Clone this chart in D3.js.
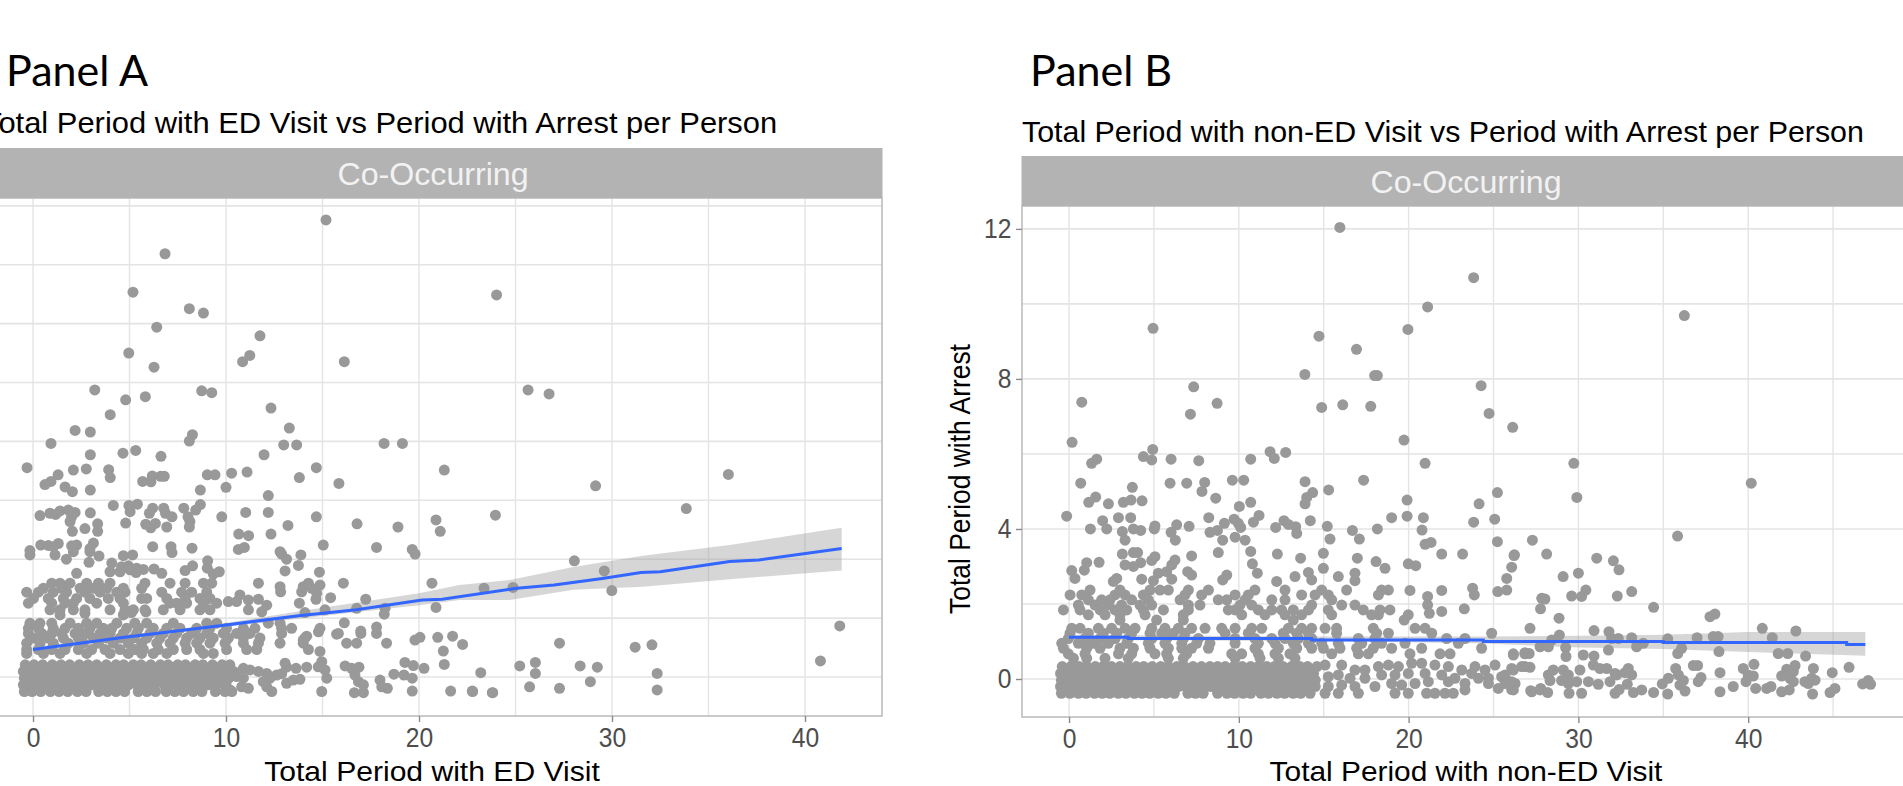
<!DOCTYPE html>
<html><head><meta charset="utf-8">
<script src="https://cdn.jsdelivr.net/npm/d3@7"></script>
<style>html,body{margin:0;padding:0;background:#fff;overflow:hidden}svg{display:block}</style>
</head><body><svg id="c" width="1903" height="786"></svg>
<script>
// ---------- Panel A values ----------
const titleA = "Total Period with ED Visit vs Period with Arrest per Person";
const xLabelA = "Total Period with ED Visit";
const xTicksA = [0,10,20,30,40];
const xGridA = [0,5,10,15,20,25,30,35,40];
const yGridA = [0,1.5,3,4.5,6,7.5,9,10.5,12];
const sparseA = [[15.18,11.64],[6.84,10.78],[5.18,9.8],[8.1,9.38],[8.83,9.27],[6.41,8.91],[11.76,8.69],[4.96,8.25],[6.27,7.89],[11.23,8.19],[10.86,8.03],[16.13,8.03],[24.02,9.73],[25.65,7.31],[26.74,7.21],[12.33,6.85],
[3.2,7.31],[4.8,7.06],[5.82,7.14],[8.74,7.29],[9.26,7.24],[4,6.68],[2.18,6.28],[2.97,6.24],[13.28,6.34],[8.26,6.17],[8.1,6.01],[.93,5.95],[12.99,5.91],[13.66,5.91],[18.19,5.95],[19.14,5.95],
[2.97,5.66],[4.66,5.7],[5.32,5.77],[6.63,5.62],[11.97,5.66],[-.31,5.33],[2.09,5.27],[2.76,5.3],[3.92,5.28],[4,5.08],[1.3,5.15],[.93,4.98],[.62,4.9],[6.18,5.12],[6.11,4.97],[5.68,4.98],[6.61,5.11],[6.8,5.11],
[9.03,5.15],[9.43,5.15],[10.29,5.19],[11.09,5.22],[14.68,5.33],[13.8,5.08],[15.85,4.93],[21.31,5.27],[1.66,4.84],[2.04,4.72],[2.97,4.76],[8.67,4.76],[10,4.83],[12.19,4.62],
[4.16,4.37],[4.97,4.37],[5.41,4.4],[5.03,4.21],[8.67,4.39],[8.43,4.25],[7.81,4.3],[6.77,4.3],[6.2,4.3],[6.03,4.17],[6.86,4.17],[7.2,4.08],[8.03,4.08],[8.13,3.96],[8.1,3.82],
[.36,4.11],[.88,4.17],[1.17,4.14],[1.4,4.23],[1.83,4.25],[2.18,4.19],[2,4.08],[1.92,3.96],[2.97,4.18],[3.35,3.9],[2.69,3.78],[2.04,3.71],[3.35,3.71],[4.8,3.92],[5.84,3.89],[6.1,3.8],[6.34,3.91],[6.93,3.82],
[9.78,4.08],[11.02,4.19],[12.19,4.19],[14.68,4.08],[16.79,3.9],[18.91,3.82],[20.88,4],[21.1,3.71],[23.96,4.12],[13.21,3.86],[12.33,3.64],[10.66,3.64],[11.17,3.6],[15.04,3.36],[17.8,3.3],[19.65,3.25],
[.4,3.36],[.79,3.35],[1.31,3.4],[1.05,3.32],[2,3.34],[2.26,3.36],[3.13,3.41],[2.95,3.27],[6.2,3.32],[7.15,3.32],[8.24,3.28],[10.64,3.25],[10.95,3.3],[-.16,3.22],[12.8,3.19],
[-.16,3.11],[1.14,3.11],[1.73,3],[2.09,3.19],[2.95,3.19],[3.42,3.08],[2.9,2.92],[4.68,3.09],[5.16,3.11],[7.2,3.17],[12.88,3.13],[13.14,3],[13.88,3.11],[13.75,2.84],[13.06,2.7],[19.8,3.13],[9.05,2.96],[9.03,2.77],
[4.08,2.9],[3.99,2.68],[4.59,2.81],[4.94,2.83],[4.51,2.68],[5.03,2.73],[5.37,2.77],[5.72,2.74],[5.34,2.66],[6.27,2.75],[6.67,2.64],[7.88,2.71],[8.27,2.83],[9.65,2.68],[9.34,2.62],[2.26,2.64],[14.84,2.67],
[11.68,2.39],[12.8,2.3],[12.83,2.17],[16.08,2.39],[20.67,2.39],[23.37,2.26],[14,2.3],[14.27,2.39],[14.87,2.34],[14.44,2.26],[13.92,2.17],[14.7,2.13],[14.66,1.98],[15.42,2.02],[17.24,1.98],[13.8,1.88],[14.09,1.64],[15.13,1.71],[16.77,1.75],[18.24,1.75],[18.2,1.6],[20.88,1.77],
[11.68,1.98],[12.11,1.83],[11.85,1.66],[11.16,1.71],[10.12,1.92],[10.72,2.09],[11.16,1.96],[10.55,1.92],[2.69,1.62],[4.73,1.62],[5.1,1.64],[5.85,1.66],
[19.79,.94],[20.05,1.01],[20.97,1.01],[21.74,1.04],[22.26,.83],[14.87,.65],[21.26,.66],[14,.94],[14.18,1.04],[14.79,1.15],[15.73,1.09],[16.13,1.38],[16.98,1.17],[17.8,1.27],
[13.06,.35],[13.14,.25],[13.63,.22],[14.18,.25],[14.96,.39],[14.78,.26],[15.13,.18],[15.22,-.03],[16.17,.28],[16.51,.22],[16.89,.25],[16.68,.05],[16.86,-.12],[17.12,-.2],[17.12,-.4],[16.65,-.4],[14.96,-.37],[17.98,-.08],[18.07,-.25],[18.36,-.29],[18.7,.07],[19.27,.37],[19.71,.29],[20.26,.22],[19.22,.05],[19.65,-.03],[19.65,-.36],[21.31,.32],[21.64,-.36],[22.76,-.36],[23.8,-.4],[23.2,.11],
[10.9,.22],[11.24,.18],[10.55,.01],[10.9,-.03],[11.68,.14],[12.11,.09],[12.63,.05],[12.88,.08],[12.28,-.03],[11.93,-.12],[13.14,-.16],[13.49,-.08],[13.83,-.06],[12.11,-.25],[12.37,-.37],[11.16,-.29],[10.81,-.25],[10.21,-.33],
[29.15,4.87],[36.03,5.16],[33.85,4.29],[28.05,2.96],[29.6,2.7],[29.99,2.2],[24.87,2.28],[41.8,1.3],[40.8,.41],[27.28,.86],[31.2,.76],[32.07,.82],[25.22,.28],[26.03,.37],[26.03,.09],[25.73,-.25],[27.28,-.29],[28.35,.28],[29.24,.25],[28.88,-.12],[32.34,.09],[32.34,-.33],[23.82,-.4],[22.78,-.37]];
const rowYsA = [2.39,2.26,2.16,2,1.88,1.71,1.58,1.37,1.24,1.11,.99,.86,.7,.6,.31,.14,-.03,-.2,-.37];
const rowXsA = [
[.97,1.4,1.92,2.78,3.39,3.99,5.8,7.1,7.88,8.83,9.26],
[.54,1.49,2.44,3.13,3.82,4.68,5.63],
[-.33,.28,1.05,1.74,2.69,3.47,4.34,4.77,6.67,7.7,8.22,9],
[.02,.79,1.57,2.26,2.95,3.9,4.51,5.63,5.89,6.93,7.88,8.65,9.17],
[-.24,.97,1.66,2.09,3.3,4.68,7.1,7.44,7.96,8.83,9.52],
[.88,1.4,2.09,2.69,3.99,4.77,5.2,5.8,6.75,7.62,8.65,9.17],
[1.4,4.68],
[-.16,.36,.97,1.92,2.78,3.3,4.34,5.28,5.89,7.27,9,9.52,12.19,12.8],
[-.24,.28,1.05,1.66,2.35,2.95,3.64,4.08,4.85,5.46,6.23,6.93,7.62,8.48,9.17,10.03,10.9,11.5,12.88,13.4,14.87],
[-.24,.45,.97,1.49,2.18,2.78,3.47,3.99,4.68,5.37,6.06,6.75,7.44,8.22,9,9.86,10.55,11.24,12.88,15.82,16.99,17.8],
[.02,.79,1.57,2.35,3.13,3.82,4.51,5.2,5.89,6.58,7.27,7.96,8.65,9.34,10.12,10.9,11.76,14.09],
[-.33,.36,1.05,1.83,2.61,3.39,4.16,4.94,5.63,6.41,7.1,7.88,8.48,9.17,9.95,10.9,11.68,12.8,14,16.25,16.77,18.32],
[-.33,.28,.97,1.66,2.35,3.04,3.73,4.51,5.28,5.72,6.49,7.27,7.96,8.65,10.03,11.07,11.59,14.27],
[-.33,.54,1.4,2.78,3.99,4.94,5.63,6.23,6.93,8.83,9.34],
[-.4,.05,.5,1,1.45,1.9,2.4,2.85,3.3,3.8,4.3,4.7,5.2,5.6,6.1,6.6,7,7.5,7.9,8.4,8.8,9.3,9.8,10.2],
[-.5,-.05,.4,.85,1.3,1.8,2.25,2.7,3.15,3.6,4.1,4.55,5,5.5,5.95,6.4,6.85,7.3,7.75,8.2,8.7,9.15,9.6,10.1,10.4],
[-.45,0,.45,.95,1.4,1.85,2.3,2.8,3.25,3.7,4.2,4.65,5.1,5.55,6,6.5,6.95,7.4,7.85,8.3,8.75,9.25,9.7,10.15],
[-.5,-.1,.35,.8,1.25,1.7,2.2,2.65,3.1,3.55,4.05,4.5,4.95,5.4,5.85,6.3,6.8,7.25,7.7,8.15,8.6,9.05,9.5,10],
[-.45,-.05,.4,.9,1.35,1.8,2.3,2.75,3.4,3.85,4.3,4.75,5.45,5.9,6.35,6.9,7.35,7.8,8.3,8.75,9.45,9.95,10.3]];
const fitA = [[0,.7],[4.54,1],[9.9,1.32],[13.77,1.56],[16.75,1.71],[20.16,1.96],[21.2,1.98],[25.07,2.26],[27,2.34],[29.5,2.51],[31.5,2.66],[32.5,2.68],[36.1,2.94],[37.6,2.98],[41.9,3.27]];
const bandA = [[0,.76,.64],[4.54,1.05,.95],[9.9,1.37,1.27],[14.4,1.72,1.52],[20,2.13,1.83],[22.1,2.34,1.96],[24.7,2.47,1.96],[28,2.8,2.22],[31.6,3.09,2.3],[36.1,3.36,2.49],[41.9,3.8,2.71]];

// ---------- Panel B values ----------
const titleB = "Total Period with non-ED Visit vs Period with Arrest per Person";
const xLabelB = "Total Period with non-ED Visit";
const yLabelB = "Total Period with Arrest";
const xTicksB = [0,10,20,30,40];
const xGridB = [0,5,10,15,20,25,30,35,40,45];
const yTicksB = [0,4,8,12];
const yGridB = [0,2,4,6,8,10,12];
const sparseB = [[15.95,12.04],[23.83,10.7],[21.12,9.92],[36.24,9.69],[4.95,9.35],[19.96,9.32],[14.72,9.14],[16.93,8.79],[13.89,8.12],[18.16,8.09],[18.0,8.09],[24.27,7.82],[7.34,7.79],[8.72,7.35],[.75,7.38],[14.88,7.24],[16.12,7.31],[17.77,7.27],
[7.15,7.06],[24.74,7.08],[26.13,6.71],[.18,6.31],[19.73,6.37],[4.93,6.12],[4.38,5.93],[4.87,5.84],[1.63,5.86],[1.33,5.75],[6.01,5.86],[7.64,5.82],[10.7,5.86],[11.84,6.06],[12.09,5.88],[12.76,6.04],[20.97,5.75],[29.73,5.75],[40.18,5.22],[29.91,4.84],
[.69,5.22],[3.73,5.11],[5.95,5.22],[6.93,5.22],[7.99,5.24],[7.83,5],[9.62,5.3],[10.29,5.3],[13.9,5.26],[17.35,5.3],[14.35,4.97],[15.29,5.04],[8.64,4.82],[1.57,4.85],[1.16,4.71],[2.32,4.67],[3.2,4.71],[3.65,4.77],[4.3,4.75],[14,4.84],[13.9,4.67],[19.91,4.77],[25.23,4.97],[24.15,4.67],[10.7,4.71],[10.03,4.6],
[-.14,4.34],[1.98,4.22],[2.91,4.3],[3.63,4.3],[1.26,4],[2.22,4],[3.14,3.93],[3.3,3.7],[3.79,4],[4.22,3.96],[5.06,4.08],[5.02,4],[6.34,4.11],[6.01,3.91],[6.26,3.7],[7.07,4.07],[8.23,4.3],[8.3,3.91],[8.74,3.96],[9.15,4.15],[9.05,3.7],[9.72,4.26],[9.97,4.15],[10.11,4.04],[9.78,3.78],[10.37,3.7],[11.19,4.36],[10.86,4.18],[12.17,4.04],[12.66,4.22],[12.92,4.12],[13.35,4.06],[13.41,3.88],[14.21,4.22],[15.21,4.07],[15.37,3.73],[16.69,3.96],[17.1,3.73],[18.16,4],[19,4.3],[19.91,4.34],[20.87,4.3],[20.79,3.97],[20.97,3.59],[21.32,3.64],[23.83,4.18],[25.07,4.26],[25.23,3.66],[27.29,3.7],[35.84,3.81],
[3.14,3.33],[3.79,3.37],[4.04,3.37],[5.06,3.26],[4.87,3.16],[3.3,3.04],[3.79,3],[4.22,3.1],[7.22,3.28],[8.79,3.37],[10.7,3.4],[12.27,3.33],[13.64,3.22],[14.98,3.35],[10.8,3.07],[11.09,2.82],[14.98,2.95],[16.98,3.22],[18.08,3.13],[18.61,2.95],[21.95,3.33],[23.18,3.33],[26.23,3.31],[26.07,2.98],[25.78,2.68],
[1.04,3.1],[.9,2.9],[1.77,3.11],[.16,2.89],[.35,2.68],[2.81,2.68],[2.61,2.6],[4.28,2.66],[4.97,2.62],[5.26,2.82],[5.75,2.86],[6.05,3.04],[6.24,3.17],[6.05,2.66],[6.99,2.86],[7.22,2.77],[9.29,2.77],[9.05,2.64],[12.23,2.6],[13.31,2.73],[14.1,2.84],[14.29,2.64],[15.86,2.73],[16.84,2.82],[16.84,2.62],[19.98,3.07],[20.42,3.02],[20.08,2.36],[21.95,2.36],[23.77,2.42],[23.87,2.24],[25.25,2.33],[25.78,2.37],[21.12,2.2],[21.12,1.97],[21.22,1.75],[21.95,1.8],[23.28,1.87],[27.84,2.15],[27.77,1.87],
[15.08,.37],[16.06,.37],[16.84,.24],[17.43,.24],[18.22,.33],[18.81,.37],[19.4,.33],[20.18,.42],[20.77,.42],[21.55,.37],[22.34,.33],[23.13,.24],[23.91,.33],[24.5,.24],[25.09,.37],[26.07,.28],[26.85,.33],
[15.27,.06],[15.86,.11],[16.55,.02],[17.43,.02],[18.41,.11],[19.2,.11],[19.98,.15],[20.97,.15],[21.95,.11],[22.73,.02],[23.71,.15],[24.11,.02],[24.7,.02],[25.48,.06],
[15.27,-.2],[16.06,-.16],[16.84,-.2],[18.02,-.2],[19,-.12],[19.59,-.16],[20.38,-.12],[21.16,-.07],[22.34,-.07],[23.32,-.12],[24.7,-.12],[25.68,-.12],[26.27,-.12],
[15.08,-.38],[15.86,-.38],[17.04,-.38],[19.2,-.38],[19.98,-.38],[21.06,-.38],[21.55,-.38],[22.14,-.38],[22.63,-.38],[23.32,-.29],[25.28,-.25],[26.17,-.29],[27.25,-.34],[27.74,-.29],
[26.21,3.29],[28.13,3.33],[31.08,3.22],[32.06,3.15],[32.39,2.91],[29.1,2.73],[30,2.82],[30.44,2.37],[29.6,2.21],[30.19,2.2],[32.29,2.21],[33.14,2.33],[28.03,2.13],[34.43,1.91],[28.86,1.62],[30.92,1.29],[31.8,1.26],[28.88,1.17],[28.43,1.04],[31.96,1.08],[32.35,1.08],[33.14,1.1],[33.82,.95],[33.43,.86],[35.26,1.07],[36.99,1.1],[37.75,1.66],[38.04,1.73],[37.94,1.13],[38.23,1.13],[40.83,1.35],[41.42,1.1],[42.81,1.28],[27.74,.86],[28.23,.86],[29.25,.84],[29.27,.6],[31.77,.77],[36.08,.82],[35.85,.68],[38.28,.73],[30.29,.64],[30.92,.61],[41.77,.68],[42.33,.68],[43.38,.61],[26.17,.64],[26.85,.7],[27.1,.68],
[30.88,.37],[31.27,.28],[31.67,.28],[32.16,.15],[32.94,.28],[33.14,.11],[32.74,.17],[32.26,.11],[30.09,.24],[29.11,.24],[28.52,.24],[28.23,.11],[28.33,-.04],[29.01,-.04],[29.41,.11],[29.41,-.12],[29.9,-.07],[30.59,-.07],[31.17,-.14],[31.86,-.07],[32.88,-.14],[26.66,.33],[26.17,.24],[27.15,.31],[25.68,.11],[26.07,-.07],[26.07,-.28],[27.19,-.31],[27.78,-.25],[28.19,-.36],[29.45,-.38],[30.19,-.38],[32.16,-.38],[32.4,-.28],[33.24,-.36],[33.73,-.29],[34.43,-.36],[35.26,-.4],[34.94,-.13],[35.3,.02],[35.73,.28],[35.89,.11],[36.18,-.04],[35.98,-.16],[36.28,-.32],[37.06,-.07],[37.22,.04],[36.77,.36],[37.02,.36],[38.34,.17],[38.34,-.34],[39.12,-.2],[39.71,.28],[40,.11],[40.3,.08],[39.87,-.07],[40.34,.39],[40.44,-.25],[41.09,-.25],[41.34,-.2],[41.97,.08],[42.27,.26],[42.76,.36],[42.66,.2],[42.46,.02],[42.66,-.07],[41.97,-.34],[42.42,-.29],[43.34,-.07],[43.84,.28],[43.74,.02],[43.94,-.03],[43.54,-.12],[43.79,-.4],[44.95,.17],[45.11,-.25],[44.82,-.36],[45.94,.31],[46.74,-.13],[47.07,-.04],[47.21,-.14]];
const rowYsB = [2.37,2.24,2.11,1.97,1.84,1.71,1.57,1.35,1.22,1.08,.95,.82,.67,.55,.33,.15,-.03,-.2,-.38];
const rowXsB = [
[1.24,3,4.77,5.36,5.85,7.03,8.21,10.95,12.72,14.88,16.35,18.81,18.41],
[.06,.75,2.71,3.3,4.38,6.83,7.81,9.78,10.56,13.7,14.49,15.27,18.22],
[1.14,1.92,2.41,3.69,4.67,6.54,8.79,9.29,10.37,11.94,12.72,15.47],
[.55,1.53,2.32,3.1,4.18,4.87,7.03,7.71,10.07,10.76,14.29,16.06,16.84],
[-.33,.65,1.83,2.71,3.4,4.38,5.56,7.03,9.38,9.78,11.15,11.94,12.52,13.21,14.1,15.27,17.33,18.32,18.9],
[1.14,2.12,3,4.48,6.73,10.17,11.54,12.72,13.7,15.47,17.82,18.22,19.98],
[3,5.16,6.73,13.21,19.74],
[.16,.65,1.73,2.51,3.3,3.89,4.87,5.65,6.44,7.22,8.01,8.99,9.78,10.76,11.35,12.92,13.7,14.29,15.08,15.76,17.92,20.38,20.97,27.15],
[.06,1.14,2.02,2.81,3.69,4.77,5.46,6.14,6.83,9.19,10.56,12.62,13.41,14.1,15.76,18.12,18.81,21.36,24.89],
[-.04,.94,1.83,2.71,3.49,4.87,5.75,6.73,7.62,9.78,10.95,11.94,12.72,13.51,14.29,17.04,18.02,22.24,23.32],
[-.43,.55,1.43,2.32,3.4,4.67,5.65,6.64,7.52,8.3,9.78,11.15,12.13,13.21,14.1,14.88,15.86,17.24,18.41,19.79,22.93],
[-.33,1.04,1.83,3,3.79,4.77,5.85,6.64,7.22,8.21,10.95,12.33,13.41,14.29,14.98,15.96,16.94,17.92,19,20.77,24.3],
[-.04,.94,2.91,3.69,5.06,5.75,6.93,9.58,10.17,11.15,12.13,13.01,15.47,17.04,17.63,20.08,21.85,22.44,26.17,26.85],
[.26,1.04,2.12,3.49,5.85,6.73,9.78,11.25,12.33,13.31],
[-.4,.1,.6,1.05,1.55,2,2.5,3,3.45,3.95,4.4,4.9,5.4,5.85,6.35,6.8,7.3,7.8,8.3,8.75,9.2,9.7,10.2,10.7,11.15,11.65,12.1,12.6,13.1,13.6,14.05,14.6],
[-.5,-.05,.4,.85,1.3,1.8,2.25,2.7,3.15,3.6,4.1,4.55,5,5.5,5.95,6.45,6.9,7.35,7.85,8.3,8.8,9.25,9.7,10.2,10.65,11.1,11.6,12.05,12.5,13,13.45,13.9,14.4],
[-.45,0,.45,.95,1.4,1.85,2.3,2.8,3.25,3.7,4.2,4.65,5.1,5.55,6.05,6.5,6.9,7.4,7.9,8.35,8.85,9.3,9.75,10.25,10.7,11.2,11.65,12.1,12.6,13.05,13.55,14,14.5],
[-.5,-.05,.45,.9,1.35,1.85,2.3,2.75,3.25,3.7,4.15,4.6,5.1,5.55,6,6.45,6.9,7.35,7.85,8.35,8.85,9.3,9.8,10.25,10.7,11.15,11.6,12.1,12.55,13.05,13.5,14.05,14.5],
[-.45,.05,.55,1,1.5,1.95,2.4,2.9,3.35,3.85,4.3,4.75,5.25,5.7,6.2,7,7.45,7.9,8.75,9.3,9.75,10.25,10.7,11.3,11.75,12.25,12.7,13.2,13.65,14.2]];
const fitB = [[0,1.11],[3.49,1.08],[14.29,1.04],[24.4,1],[35,.97],[45.8,.92],[46.9,.92]];
const bandB = [[0,1.18,1.04],[14,1.13,1.02],[24,1.13,.95],[30,1.15,.84],[35,1.18,.8],[40,1.25,.72],[46.9,1.25,.62]];

const stripLabel = "Co-Occurring";
const svg = d3.select("#c");
const SANS = "'Liberation Sans',Arial,sans-serif";

function expand(sparse, ys, xs){
  const out = sparse.map(d=>d.slice());
  ys.forEach((y,i)=>xs[i].forEach(x=>out.push([x,y])));
  return out;
}
function text(str,x,y,size,fill,anchor,sx,rot,family){
  svg.append("text").attr("transform",`translate(${x},${y})`+(rot?` rotate(${rot})`:"")+` scale(${sx||1},1)`)
    .attr("text-anchor",anchor||"middle").attr("dominant-baseline","alphabetic")
    .style("font-family",family||SANS).style("font-size",size+"px").style("fill",fill||"#000").text(str);
}
function panel(o){
  const g = svg.append("g");
  const cid = o.id;
  svg.append("clipPath").attr("id",cid).append("rect").attr("x",o.L).attr("y",o.T).attr("width",o.R-o.L).attr("height",o.B-o.T);
  const x = d3.scaleLinear().domain(o.xDom).range([o.L,o.R]);
  const y = d3.scaleLinear().domain(o.yDom).range([o.B,o.T]);
  g.selectAll("line.gy").data(o.yGrid).join("line").attr("x1",o.L).attr("x2",o.R).attr("y1",d=>y(d)).attr("y2",d=>y(d)).attr("stroke","#e4e4e4").attr("stroke-width",1.6);
  g.selectAll("line.gx").data(o.xGrid).join("line").attr("y1",o.T).attr("y2",o.B).attr("x1",d=>x(d)).attr("x2",d=>x(d)).attr("stroke","#e4e4e4").attr("stroke-width",1.4);
  const pts = g.append("g").attr("clip-path",`url(#${cid})`);
  pts.selectAll("circle").data(expand(o.sparse,o.rowYs,o.rowXs)).join("circle")
    .attr("cx",d=>x(d[0])).attr("cy",d=>y(d[1])).attr("r",5.5).attr("fill","#999999");
  const area = d3.area().x(d=>x(d[0])).y0(d=>y(d[2])).y1(d=>y(d[1]));
  pts.append("path").attr("d",area(o.band)).attr("fill","#999999").attr("fill-opacity",0.4);
  const line = d3.line().x(d=>x(d[0])).y(d=>y(d[1])).curve(o.step?d3.curveStepAfter:d3.curveLinear);
  pts.append("path").attr("d",line(o.fit)).attr("fill","none").attr("stroke","#3366FF").attr("stroke-width",3);
  g.append("rect").attr("x",o.L).attr("y",o.T).attr("width",o.R-o.L).attr("height",o.B-o.T).attr("fill","none").attr("stroke","#b9b9b9").attr("stroke-width",1.5);
  g.append("rect").attr("x",o.L-.5).attr("y",o.ST).attr("width",o.R-o.L+1).attr("height",o.T-o.ST).attr("fill","#b3b3b3");
  text(stripLabel,(o.L+o.R)/2,o.ST+37,32,"#f2f2f2","middle",1.005);
  const ax = g.append("g").attr("transform",`translate(0,${o.B})`).call(d3.axisBottom(x).tickValues(o.xTicks).tickSize(6).tickPadding(5));
  ax.select(".domain").remove();
  ax.selectAll("line").attr("stroke","#8a8a8a").attr("stroke-width",1.4);
  ax.selectAll("text").style("font-family",SANS).style("font-size","28px").style("fill","#4d4d4d").attr("transform","scale(.88,1)");
  if(o.yTicks){
    const ay = g.append("g").attr("transform",`translate(${o.L},0)`).call(d3.axisLeft(y).tickValues(o.yTicks).tickSize(6).tickPadding(6));
    ay.select(".domain").remove();
    ay.selectAll("line").attr("stroke","#8a8a8a").attr("stroke-width",1.4);
    ay.selectAll("text").style("font-family",SANS).style("font-size","28px").style("fill","#4d4d4d").attr("transform","scale(.88,1)");
  }
  text(o.xLabel,(o.L+o.R)/2+o.xLabelShift,781,28.5,"#000","middle",o.xLabelStretch);
  text(o.title,o.titleX,o.titleY,o.titleSize,"#000","start",o.titleStretch);
}
panel({id:"clipA",L:-16,R:882,T:198,B:716,ST:148,xDom:[-2.54,43.99],yDom:[-.994,12.2],xTicks:xTicksA,xGrid:xGridA,yGrid:yGridA,
  sparse:sparseA,rowYs:rowYsA,rowXs:rowXsA,fit:fitA,band:bandA,step:false,xLabel:xLabelA,xLabelStretch:1.056,xLabelShift:-1,title:titleA,titleX:-17,titleY:133,titleSize:30,titleStretch:1.03});
panel({id:"clipB",L:1022,R:1910,T:206,B:717,ST:156,xDom:[-2.77,49.53],yDom:[-1.013,12.61],xTicks:xTicksB,yTicks:yTicksB,xGrid:xGridB,yGrid:yGridB,
  sparse:sparseB,rowYs:rowYsB,rowXs:rowXsB,fit:fitB,band:bandB,step:true,xLabel:xLabelB,xLabelStretch:1.048,xLabelShift:0,title:titleB,titleX:1022,titleY:142,titleSize:29.5,titleStretch:1.03});
text(yLabelB,970,479,29,"#000","middle",.91,-90);
text("Panel A",6,86,43,"#000","start",1,0,"Lato,'Open Sans',sans-serif");
text("Panel B",1030,86,43,"#000","start",1,0,"Lato,'Open Sans',sans-serif");
</script></body></html>
